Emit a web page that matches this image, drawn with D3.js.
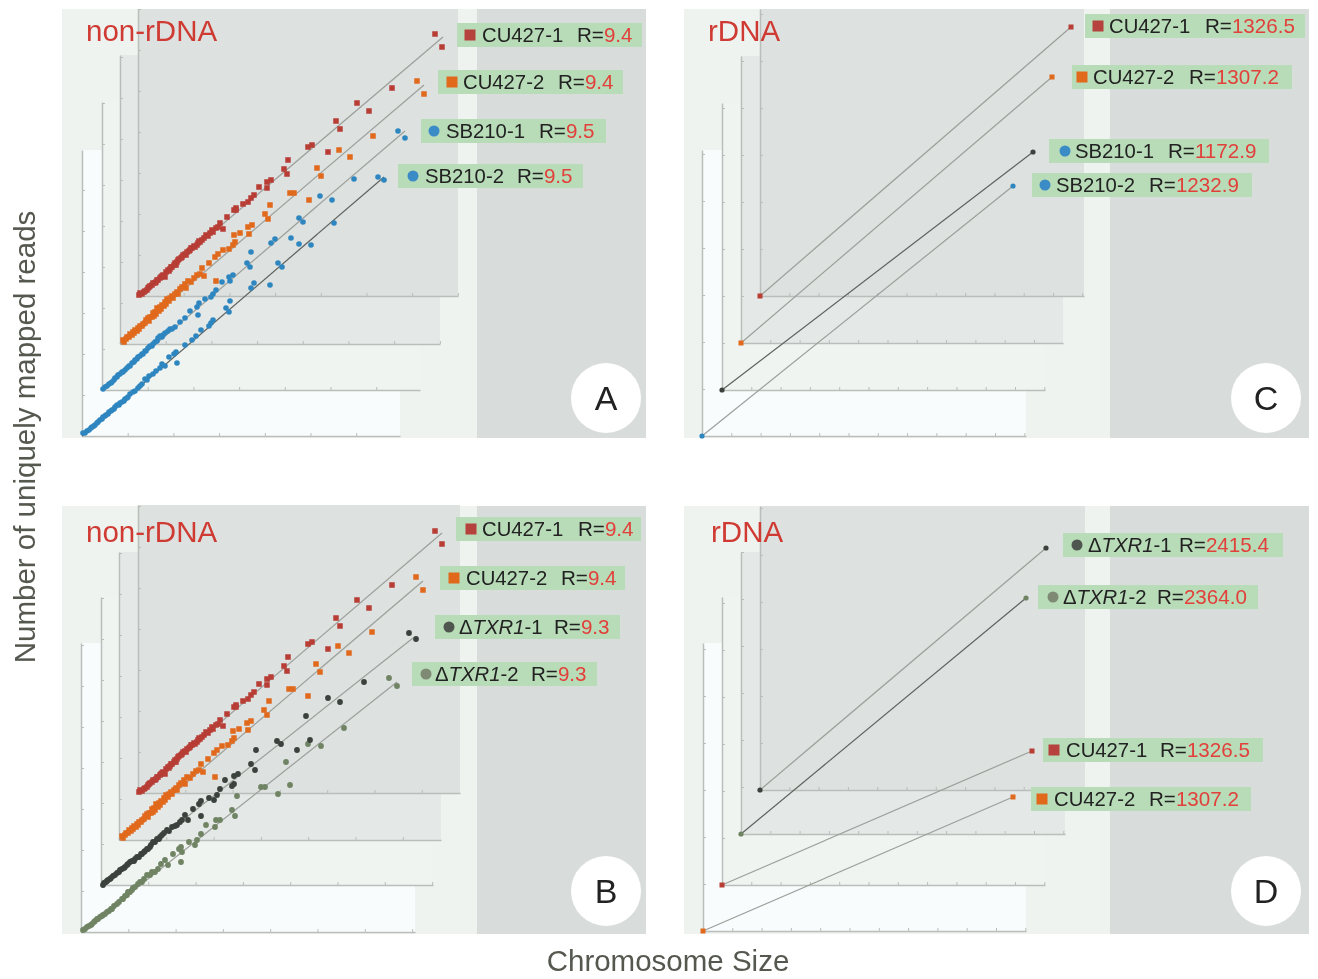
<!DOCTYPE html>
<html>
<head>
<meta charset="utf-8">
<script src="https://cdn.jsdelivr.net/npm/d3@7"></script>
<style>
  body { margin: 0; background: #fff; }
  text { font-family: "Liberation Sans", Arial, sans-serif; }
  .axis path, .axis line { stroke: #babebb; fill: none; }
  .axis path { stroke-width: 1.5; }
</style>
</head>
<body>
<svg id="canvas" width="1318" height="979"></svg>
<script>
// values, chromosome size vs reads, arbitrary units
var cu1 = [[1,1],[2,3],[4,2],[6,4],[7,5],[9,6],[10,8],[11,9],[12,10],[14,11],[15,13],[17,13],[18,14],[19,16],[20,16],[22,18],[23,19],[24,20],[25,21],[27,19],[28,24],[30,26],[31,25],[32,27],[33,29],[34,29],[36,31],[37,33],[38,31],[39,34],[40,36],[41,37],[43,38],[44,39],[45,41],[47,42],[48,41],[49,44],[51,45],[52,46],[53,48],[54,48],[56,50],[57,49],[59,51],[60,53],[61,55],[62,54],[64,56],[66,58],[68,61],[70,60],[72,63],[74,66],[75,64],[78,68],[80,69],[82,73],[85,67],[89,79],[96,86],[98,88],[98,86],[105,92],[110,94],[113,98],[116,101],[121,109],[129,114],[129,108],[133,116],[146,127],[149,122],[150,136],[170,149],[174,151],[190,144],[198,175],[202,167],[219,193],[231,185],[254,208],[297,262],[304,249]];
var cu2 = [[3,4],[4,2],[6,5],[7,7],[9,7],[10,10],[12,9],[13,12],[14,11],[15,14],[17,13],[18,16],[19,15],[20,18],[22,18],[23,20],[25,21],[26,24],[28,26],[29,23],[30,27],[32,27],[33,31],[34,28],[35,32],[36,30],[37,36],[39,33],[40,37],[41,35],[42,39],[44,38],[45,42],[46,40],[47,45],[49,43],[50,46],[52,48],[53,46],[55,50],[57,52],[58,50],[60,55],[62,57],[65,60],[66,56],[68,63],[71,62],[74,66],[77,69],[80,70],[82,76],[84,68],[89,81],[95,87],[96,63],[98,90],[103,94],[109,95],[113,99],[115,102],[114,109],[120,111],[129,110],[128,117],[132,119],[145,130],[148,125],[150,139],[170,151],[174,151],[189,144],[197,176],[201,168],[219,194],[230,187],[253,208],[297,263],[304,250]];
var sb1 = [[1,1],[3,3],[5,4],[7,6],[9,7],[10,8],[12,10],[13,12],[15,13],[16,15],[18,16],[20,18],[21,18],[23,20],[25,22],[27,24],[28,24],[30,27],[32,28],[33,30],[35,31],[36,33],[38,34],[40,36],[41,36],[43,39],[44,39],[46,42],[48,44],[50,44],[51,46],[53,48],[55,49],[56,52],[58,54],[60,53],[61,55],[63,57],[66,59],[68,61],[70,61],[73,63],[78,68],[83,72],[88,79],[95,83],[96,75],[97,87],[103,91],[109,93],[111,96],[114,100],[120,108],[128,109],[127,113],[131,115],[145,127],[148,123],[149,138],[169,147],[173,151],[189,152],[197,172],[201,168],[218,194],[230,190],[252,211],[296,259],[303,252]];
var sb2 = [[1,3],[3,3],[5,5],[7,6],[9,8],[10,9],[12,10],[13,11],[15,13],[16,14],[18,16],[20,17],[21,19],[23,20],[24,21],[26,22],[27,24],[29,25],[30,26],[32,27],[33,29],[35,31],[37,31],[38,33],[40,34],[42,35],[43,37],[45,38],[46,39],[48,42],[51,44],[53,45],[56,48],[58,50],[60,52],[63,57],[65,56],[67,60],[71,62],[74,65],[78,68],[80,72],[83,70],[87,79],[94,84],[92,82],[95,73],[103,91],[110,96],[114,100],[119,106],[127,110],[129,113],[131,116],[144,128],[147,124],[148,135],[169,148],[172,153],[188,151],[196,173],[200,169],[217,192],[229,191],[252,213],[296,259],[302,256]];
var txr1 = [[2,0],[3,2],[5,3],[6,4],[7,5],[9,6],[10,7],[12,9],[14,10],[16,12],[18,13],[19,15],[21,16],[23,17],[24,18],[26,20],[27,21],[29,23],[31,24],[33,24],[34,26],[36,28],[38,28],[40,31],[41,31],[43,33],[44,34],[46,36],[47,36],[49,38],[50,40],[52,43],[54,43],[56,46],[58,46],[59,48],[61,50],[63,52],[66,55],[68,54],[71,58],[74,59],[76,60],[79,63],[81,65],[84,70],[87,65],[92,76],[98,81],[100,84],[100,69],[108,87],[113,85],[116,90],[119,96],[124,105],[133,101],[131,99],[133,109],[137,111],[150,121],[154,115],[155,135],[176,144],[180,141],[196,135],[205,169],[209,145],[227,187],[239,183],[263,203],[308,252],[315,246]];
var txr2 = [[2,2],[4,3],[6,5],[8,6],[10,7],[11,8],[13,10],[14,11],[16,13],[17,13],[19,15],[21,16],[22,17],[24,18],[26,20],[28,21],[30,23],[31,23],[33,26],[36,28],[38,30],[41,33],[42,33],[44,36],[46,37],[47,40],[49,40],[51,42],[52,44],[54,45],[57,48],[59,50],[61,50],[63,53],[66,57],[69,57],[71,60],[74,60],[77,63],[84,72],[80,68],[87,67],[92,78],[98,83],[100,85],[101,80],[100,70],[108,90],[114,87],[116,92],[120,98],[125,107],[134,105],[135,112],[139,112],[151,122],[154,116],[156,136],[180,145],[184,145],[197,138],[205,170],[209,147],[227,188],[240,186],[263,204],[308,254],[316,246]];

// rDNA panels only have the two end points
var cu1R = [[0,0],[311,269]];
var cu2R = [[0,0],[311,266]];
var sb1R = [[0,0],[311,238]];
var sb2R = [[0,0],[311,250]];
var txr1R = [[0,0],[286,242]];
var txr2R = [[0,0],[285,236]];
var cu1D = [[0,0],[310,134]];
var cu2D = [[0,0],[310,134]];

// fitted line ends
var fitA = [[[0,0],[305,259]], [[0,0],[304,259]], [[0,0],[303,259]], [[0,0],[302,259]]];
var fitB = [[[0,0],[304,260]], [[0,0],[304,259]], [[0,0],[312,247]], [[0,0],[316,250]]];

var names = ["CU427-1", "CU427-2", "SB210-1", "SB210-2"];
var namesB = ["CU427-1", "CU427-2", "TXR1-1", "TXR1-2"];
var namesD = ["TXR1-1", "TXR1-2", "CU427-1", "CU427-2"];
var rA = ["9.4", "9.4", "9.5", "9.5"];
var rB = ["9.4", "9.4", "9.3", "9.3"];
var rC = ["1326.5", "1307.2", "1172.9", "1232.9"];
var rD = ["2415.4", "2364.0", "1326.5", "1307.2"];

var red = "#b73c35", orange = "#e0691f", blue = "#2f86c0", dark = "#3b433d", olive = "#6f8464";
var tagRed = "#b5423c", tagDark = "#50564f", tagOlive = "#7f8a74", tagBlue = "#3a8bc6";
var lineGrey = "#9c9f9a", lineDark = "#5f625f";
var planeFills = ["#dde1df", "#e4e9e8", "#eff4f1", "#f9fcfd"];

var panels = [
  { title: "non-rDNA", titleX: 86, titleY: 41, letter: "A", box: [62, 9, 646, 438], dark: 477,
    planes: [[138,296,458,9],[120,344,440,55],[102,390,420,102],[82,436,400,150]], tx: 45.7, ty: 41,
    data: [cu1,cu2,sb1,sb2], fits: fitA, names: names, r: rA, colors: [red,orange,blue,blue], shapes: "sscc",
    lines: [lineGrey,lineGrey,lineGrey,lineDark], sizes: [5.5,5.5,2.8,2.8], tagColors: [tagRed,orange,tagBlue,tagBlue],
    tags: [[457,23,482,577,470],[438,70,463,558,452],[421,119,446,539,434],[398,164,425,517,413]] },
  { title: "non-rDNA", titleX: 86, titleY: 542, letter: "B", box: [62, 506, 646, 934], dark: 477,
    planes: [[138,793,460,505],[119,840,441,552],[101,885,433,597],[81,932,415,643]], tx: 47.3, ty: 41,
    data: [cu1,cu2,txr1,txr2], fits: fitB, names: namesB, r: rB, colors: [red,orange,dark,olive], shapes: "sscc",
    lines: [lineGrey,lineGrey,lineGrey,lineGrey], sizes: [5.5,5.5,2.9,2.9], tagColors: [tagRed,orange,tagDark,tagOlive],
    tags: [[456,517,482,578,471],[440,566,466,561,454],[435,615,459,554,449],[412,662,435,531,426]] },
  { title: "rDNA", titleX: 708, titleY: 41, letter: "C", box: [684, 9, 1309, 438], dark: 1110,
    planes: [[760,296,1084,9],[741,343,1063,56],[722,390,1045,103],[702,436,1026,150]], tx: 29.3, ty: 47,
    data: [cu1R,cu2R,sb1R,sb2R], fits: [cu1R,cu2R,sb1R,sb2R], names: names, r: rC, colors: [red,orange,dark,blue], shapes: "sscc",
    lines: [lineGrey,lineGrey,lineDark,lineGrey], sizes: [5,5,2.6,2.6], tagColors: [tagRed,orange,tagBlue,tagBlue],
    tags: [[1085,14,1109,1205,1098],[1072,65,1093,1189,1082],[1049,139,1075,1168,1065],[1032,173,1056,1149,1045]] },
  { title: "rDNA", titleX: 711, titleY: 542, letter: "D", box: [684, 506, 1309, 934], dark: 1110,
    planes: [[760,790,1085,506],[741,834,1065,552],[722,885,1045,597],[703,931,1026,643]], tx: 29.3, ty: 47,
    data: [txr1R,txr2R,cu1D,cu2D], fits: [txr1R,txr2R,cu1D,cu2D], names: namesD, r: rD, colors: [dark,olive,red,orange], shapes: "ccss",
    lines: [lineGrey,lineDark,lineGrey,lineGrey], sizes: [2.6,2.6,5,5], tagColors: [tagDark,tagOlive,tagRed,orange],
    tags: [[1063,533,1088,1179,1077],[1038,585,1063,1157,1053],[1043,738,1066,1160,1054],[1031,787,1054,1149,1042]] }
];

var svg = d3.select("#canvas");

var defs = svg.append("defs");
defs.append("filter").attr("id", "soft").append("feGaussianBlur").attr("stdDeviation", 0.5);

var root = svg.append("g").attr("filter", "url(#soft)");

function drawPanel(p) {
  var g = root.append("g");
  var b = p.box;

  g.append("rect").attr("x", b[0]).attr("y", b[1]).attr("width", b[2] - b[0]).attr("height", b[3] - b[1]).attr("fill", "#eef3f0");
  g.append("rect").attr("x", p.dark).attr("y", b[1]).attr("width", b[2] - p.dark).attr("height", b[3] - b[1]).attr("fill", "#d8dcdb");

  // planes go front to back so the darkest one ends up on top
  var scales = p.planes.map(function(pl) {
    var w = pl[2] - pl[0];
    var h = pl[1] - pl[3];
    return {
      x: d3.scaleLinear().domain([0, w]).range([pl[0], pl[2]]),
      y: d3.scaleLinear().domain([0, h]).range([pl[1], pl[3]]),
      w: w, h: h
    };
  });

  for (let i = 3; i >= 0; i--) {
    var pl = p.planes[i];
    var s = scales[i];
    g.append("rect").attr("x", pl[0]).attr("y", pl[3]).attr("width", s.w).attr("height", s.h).attr("fill", planeFills[i]);

    g.append("g").attr("class", "axis")
      .attr("transform", "translate(0," + pl[1] + ")")
      .call(d3.axisBottom(s.x).tickValues(d3.range(0, s.w, p.tx)).tickSizeInner(-3).tickSizeOuter(0).tickFormat(""));
    g.append("g").attr("class", "axis")
      .attr("transform", "translate(" + pl[0] + ",0)")
      .call(d3.axisLeft(s.y).tickValues(d3.range(0, s.h + 1, p.ty)).tickSizeInner(-3).tickSizeOuter(0).tickFormat(""));
  }

  // fitted lines then the points
  for (let i = 3; i >= 0; i--) {
    var sc = scales[i];
    var line = d3.line().x(function(d) { return sc.x(d[0]); }).y(function(d) { return sc.y(d[1]); });
    g.append("path").attr("d", line(p.fits[i])).attr("fill", "none").attr("stroke", p.lines[i]).attr("stroke-width", 1.2);

    var size = p.sizes[i];
    var col = p.colors[i];
    if (p.shapes[i] == "s") {
      g.selectAll(null).data(p.data[i]).enter().append("rect")
        .attr("x", function(d) { return sc.x(d[0]) - size / 2; })
        .attr("y", function(d) { return sc.y(d[1]) - size / 2; })
        .attr("width", size).attr("height", size).attr("fill", col);
    } else {
      g.selectAll(null).data(p.data[i]).enter().append("circle")
        .attr("cx", function(d) { return sc.x(d[0]); })
        .attr("cy", function(d) { return sc.y(d[1]); })
        .attr("r", size).attr("fill", col);
    }
  }

  // title and the white letter disc
  g.append("text").attr("x", p.titleX).attr("y", p.titleY).attr("font-size", 29.5).attr("fill", "#cf3a33").text(p.title);

  var cx = p.dark == 477 ? 606 : 1266;
  var cy = (p.letter == "A" || p.letter == "C") ? 398 : 891;
  g.append("circle").attr("cx", cx).attr("cy", cy).attr("r", 35).attr("fill", "#fff");
  g.append("text").attr("x", cx).attr("y", cy + 12).attr("text-anchor", "middle").attr("font-size", 34).attr("fill", "#222").text(p.letter);

  // labels
  p.tags.forEach(function(t, i) {
    var rectW = p.dark == 477 ? 185 : 220;
    g.append("rect").attr("x", t[0]).attr("y", t[1]).attr("width", rectW).attr("height", 24).attr("fill", "#b8dbb8");

    var mx = t[4], my = t[1] + 12;
    var mc = p.tagColors[i];
    if (p.shapes[i] == "s") {
      g.append("rect").attr("x", mx - 5.5).attr("y", my - 5.5).attr("width", 11).attr("height", 11).attr("fill", mc);
    } else {
      g.append("circle").attr("cx", mx).attr("cy", my).attr("r", 5.5).attr("fill", mc);
    }

    var name = p.names[i];
    var lab = g.append("text").attr("x", t[2]).attr("y", t[1] + 19).attr("font-size", 20.3).attr("fill", "#222");
    if (name.indexOf("TXR1") == 0) {
      lab.append("tspan").text("Δ");
      lab.append("tspan").attr("font-style", "italic").text("TXR1");
      lab.append("tspan").text(name.slice(4));
    } else {
      lab.text(name);
    }

    var val = g.append("text").attr("x", t[3]).attr("y", t[1] + 19).attr("font-size", 20.6).attr("fill", "#222");
    val.append("tspan").text("R=");
    val.append("tspan").attr("fill", "#e2403a").text(p.r[i]);
  });
}

panels.forEach(drawPanel);

// axis titles
root.append("text").attr("x", 668).attr("y", 971).attr("text-anchor", "middle").attr("font-size", 29.5).attr("fill", "#555850").text("Chromosome Size");
root.append("text").attr("transform", "translate(35,437) rotate(-90)").attr("text-anchor", "middle").attr("font-size", 29.5).attr("fill", "#555850").text("Number of uniquely mapped reads");
</script>
</body>
</html>
